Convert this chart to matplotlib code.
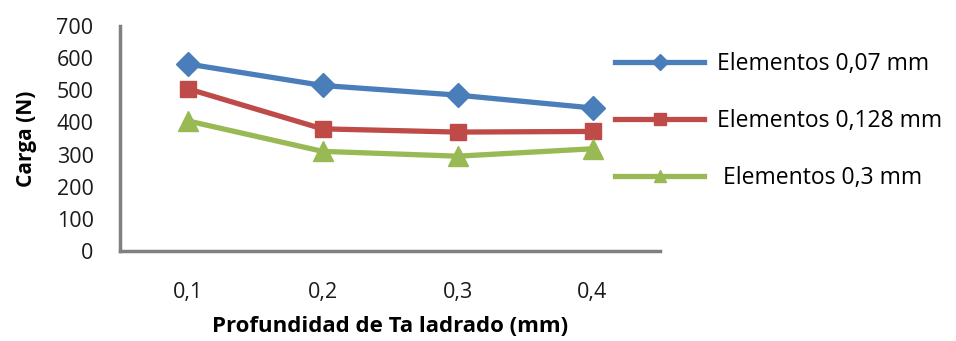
import matplotlib.pyplot as plt
from matplotlib.lines import Line2D

plt.rcParams['font.family'] = ['Open Sans', 'DejaVu Sans']

# Profundidad del taladrado vs carga para cada tamaño de elemento
profundidad = ['0,1', '0,2', '0,3', '0,4']
series_labels = ['Elementos 0,07 mm', 'Elementos 0,128 mm', ' Elementos 0,3 mm']
carga_007 = [582, 515, 485, 445]
carga_0128 = [505, 380, 370, 372]
carga_03 = [405, 310, 295, 318]

colors = ['#4a7ebb', '#be4b48', '#98b954']
markers = ['D', 's', '^']
msizes = [12, 12, 14]

fig = plt.figure(figsize=(9.56, 3.41), dpi=100)
ax = fig.add_axes([120 / 956, 1 - 251 / 341, 540 / 956, 225 / 341])

x = range(len(profundidad))
handles = []
for vals, c, m, ms, lab in zip([carga_007, carga_0128, carga_03], colors, markers, msizes, series_labels):
    ax.plot(x, vals, color=c, lw=3.8, marker=m, markersize=ms, clip_on=False)
    handles.append(Line2D([], [], color=c, lw=3.8, marker=m, markersize=8, label=lab))

ax.set_xlim(-0.5, 3.5)
ax.set_ylim(0, 700)
ax.set_yticks(range(0, 701, 100))
ax.set_xticks(list(x))
ax.set_xticklabels(profundidad)
ax.tick_params(axis='both', length=0, labelsize=15.5, colors='#1a1a1a')
ax.tick_params(axis='x', pad=22)
ax.tick_params(axis='y', pad=19)

for side in ['top', 'right']:
    ax.spines[side].set_visible(False)
for side in ['left', 'bottom']:
    ax.spines[side].set_color('#808080')
    ax.spines[side].set_linewidth(2.5)

ax.set_ylabel('Carga (N)', fontsize=15, fontweight='bold', labelpad=14)
ax.set_xlabel('Profundidad de Ta ladrado (mm)', fontsize=16, fontweight='bold', labelpad=10)

fig.legend(handles=handles, loc='upper left', bbox_to_anchor=(615 / 956, 1 - 52 / 341),
           frameon=False, fontsize=16.5, handlelength=3.9, handletextpad=0.55,
           labelspacing=1.45, borderpad=0, borderaxespad=0)

fig.savefig('out.png', dpi=100)
